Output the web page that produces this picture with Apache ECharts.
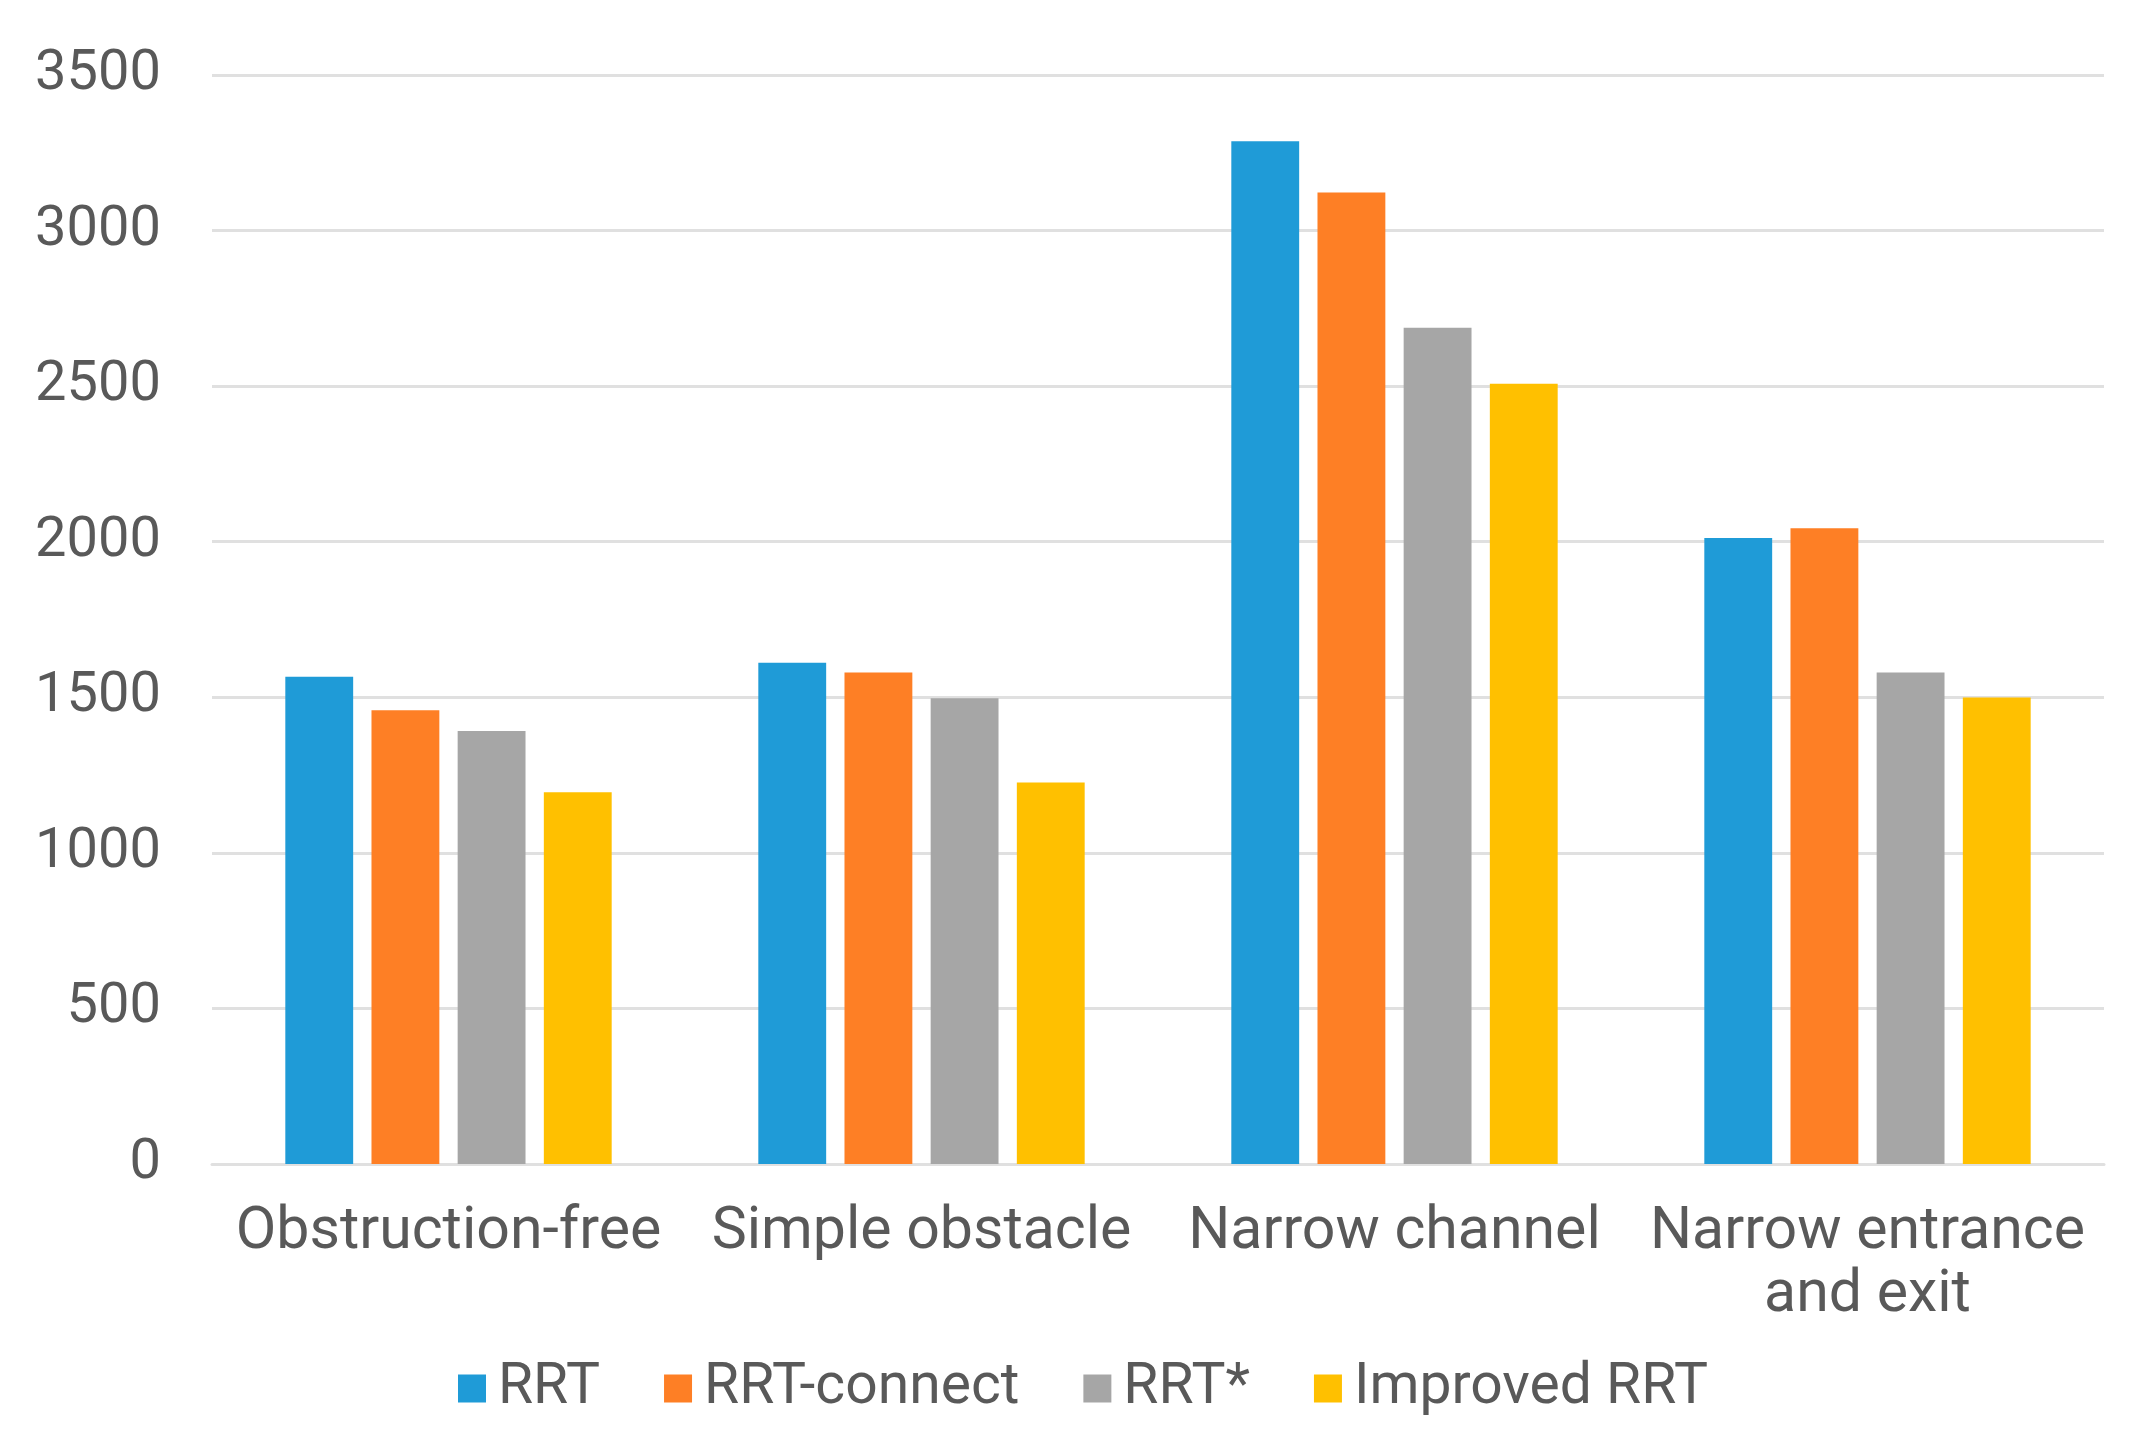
<!DOCTYPE html>
<html>
<head>
<meta charset="utf-8">
<script src="https://cdn.jsdelivr.net/npm/echarts@6/dist/echarts.min.js"></script>
<style>
html,body{margin:0;padding:0;background:#fff;}
#c{width:2147px;height:1445px;}
</style>
</head>
<body>
<div id="c"></div>
<script>
const categories = ['Obstruction-free', 'Simple obstacle', 'Narrow channel', 'Narrow entrance\nand exit'];
const seriesNames = ['RRT', 'RRT-connect', 'RRT*', 'Improved RRT'];
const rrt = [1566, 1611, 3287, 2012];
const rrtConnect = [1458, 1580, 3122, 2043];
const rrtStar = [1392, 1497, 2688, 1580];
const improvedRrt = [1195, 1226, 2508, 1499];
const yTicks = [0, 500, 1000, 1500, 2000, 2500, 3000, 3500];

const colors = ['#1F9BD7', '#FE7F25', '#A6A6A6', '#FFC000'];
const values = [rrt, rrtConnect, rrtStar, improvedRrt];
const font = 'Roboto';
const textColor = '#595959';

const chart = echarts.init(document.getElementById('c'));
chart.setOption({
  animation: false,
  backgroundColor: '#ffffff',
  color: colors,
  grid: { left: 212, right: 43, top: 75, bottom: 281, containLabel: false },
  legend: {
    left: 453,
    top: 1355,
    itemWidth: 28,
    itemHeight: 28,
    itemGap: 64,
    icon: 'rect',
    textStyle: { fontFamily: font, fontSize: 57, color: textColor, padding: [0, 0, 0, 7] },
    data: seriesNames
  },
  xAxis: {
    type: 'category',
    data: categories,
    axisLine: { show: true, lineStyle: { color: '#E0E0E0', width: 3 } },
    axisTick: { show: false },
    axisLabel: {
      interval: 0,
      margin: 38,
      fontFamily: font,
      fontSize: 59,
      lineHeight: 63,
      color: textColor
    }
  },
  yAxis: {
    type: 'value',
    min: yTicks[0],
    max: yTicks[yTicks.length - 1],
    interval: 500,
    axisLine: { show: false },
    axisTick: { show: false },
    splitLine: { lineStyle: { color: '#E0E0E0', width: 3 } },
    axisLabel: { margin: 51, fontFamily: font, fontSize: 56, color: textColor, formatter: v => String(v) }
  },
  series: seriesNames.map((name, i) => ({
    name: name,
    type: 'bar',
    data: values[i],
    barGap: '27%',
    barCategoryGap: '31%',
    itemStyle: { color: colors[i] }
  }))
});
</script>
</body>
</html>
